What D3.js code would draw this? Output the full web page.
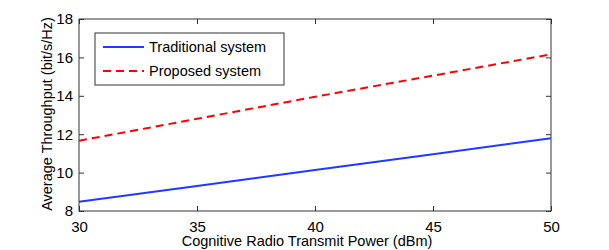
<!DOCTYPE html>
<html lang="en">
<head>
<meta charset="UTF-8">
<title>Average Throughput vs Transmit Power</title>
<script src="https://d3js.org/d3.v7.min.js"></script>
<style>
  body { margin: 0; background: #fff; }
  text { font-family: "Liberation Sans", Arial, sans-serif; fill: #000; }
</style>
</head>
<body>
<svg width="609" height="250"></svg>
<script>
// data
const power = [30, 35, 40, 45, 50];
const traditional = [8.48, 9.3, 10.13, 10.96, 11.79];
const proposed = [11.66, 12.8, 13.95, 15.05, 16.16];
const xTicks = [30, 35, 40, 45, 50];
const yTicks = [8, 10, 12, 14, 16, 18];

const margin = {top: 19, right: 58, bottom: 39, left: 79};
const width = 609 - margin.left - margin.right;
const height = 250 - margin.top - margin.bottom;

const svg = d3.select('svg');
const g = svg.append('g').attr('transform', `translate(${margin.left},${margin.top})`);

const x = d3.scaleLinear().domain([30, 50]).range([0, width]);
const y = d3.scaleLinear().domain([8, 18]).range([height, 0]);

const axisColor = '#333';

// bottom / left axes with ticks pointing inward
g.append('g').attr('transform', `translate(0,${height})`)
  .call(d3.axisBottom(x).tickValues(xTicks).tickSize(-5).tickPadding(10).tickFormat(d3.format('d')));
g.append('g')
  .call(d3.axisLeft(y).tickValues(yTicks).tickSize(-5).tickPadding(6).tickFormat(d3.format('d')));
// top / right ticks
g.append('g')
  .call(d3.axisTop(x).tickValues(xTicks).tickSize(-5).tickFormat(''));
g.append('g').attr('transform', `translate(${width},0)`)
  .call(d3.axisRight(y).tickValues(yTicks).tickSize(-5).tickFormat(''));

g.selectAll('.domain').remove();
g.selectAll('.tick line').attr('stroke', axisColor);
g.selectAll('.tick text').attr('font-size', 15).attr('fill', '#000');

g.append('rect')
  .attr('width', width).attr('height', height)
  .attr('fill', 'none').attr('stroke', axisColor).attr('stroke-width', 1);

const line = d3.line().x((d, i) => x(power[i])).y(d => y(d));

g.append('path').datum(traditional)
  .attr('d', line).attr('fill', 'none')
  .attr('stroke', '#1f3bff').attr('stroke-width', 2);

g.append('path').datum(proposed)
  .attr('d', line).attr('fill', 'none')
  .attr('stroke', '#ff0000').attr('stroke-width', 2)
  .attr('stroke-dasharray', '8,5');

// axis labels
svg.append('text')
  .attr('x', margin.left + width / 2 - 8).attr('y', 246)
  .attr('text-anchor', 'middle').attr('font-size', 14.5)
  .text('Cognitive Radio Transmit Power (dBm)');

svg.append('text')
  .attr('transform', `translate(52,${margin.top + height / 2 - 1}) rotate(-90)`)
  .attr('text-anchor', 'middle').attr('font-size', 14.5)
  .text('Average Throughput (bit/s/Hz)');

// legend
const legend = svg.append('g').attr('transform', 'translate(95,33)');
legend.append('rect')
  .attr('width', 189).attr('height', 52)
  .attr('fill', '#fff').attr('stroke', axisColor);

const series = [
  {name: 'Traditional system', color: '#1f3bff', dash: null},
  {name: 'Proposed system', color: '#ff0000', dash: '8,5'}
];
series.forEach((s, i) => {
  const yy = 14 + i * 24;
  legend.append('line')
    .attr('x1', 8).attr('x2', 49).attr('y1', yy).attr('y2', yy)
    .attr('stroke', s.color).attr('stroke-width', 2)
    .attr('stroke-dasharray', s.dash);
  legend.append('text')
    .attr('x', 54).attr('y', yy + 5)
    .attr('font-size', 14.5)
    .text(s.name);
});
</script>
</body>
</html>
